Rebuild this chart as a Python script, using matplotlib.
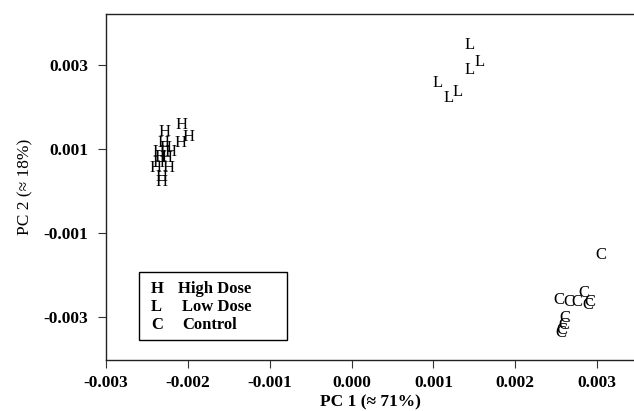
import matplotlib.pyplot as plt
from matplotlib.patches import Rectangle

plt.rcParams['font.family'] = ['Liberation Serif', 'DejaVu Serif']

# PCA scores
high_x = [-0.002075, -0.001994, -0.002287, -0.002300, -0.002095, -0.002361, -0.002218,
          -0.002258, -0.002401, -0.002238, -0.002319, -0.002319, -0.002361, -0.002279,
          -0.002340]
high_y = [0.001571, 0.001293, 0.001412, 0.001136, 0.001143, 0.000936, 0.000936,
          0.000779, 0.000540, 0.000540, 0.000340, 0.000221, 0.000660, 0.001024,
          0.000810]

low_x = [0.001441, 0.001564, 0.001441, 0.001050, 0.001295, 0.001185]
low_y = [0.003476, 0.003079, 0.002881, 0.002564, 0.002364, 0.002207]

ctrl_x = [0.003048, 0.002529, 0.002652, 0.002835, 0.002754, 0.002917, 0.002892,
          0.002611, 0.002590, 0.002571, 0.002559]
ctrl_y = [-0.001524, -0.002595, -0.002636, -0.002436, -0.002636, -0.002636, -0.002714,
          -0.003031, -0.003191, -0.003310, -0.003381]

groups = [("H", "High Dose", high_x, high_y),
          ("L", "Low Dose", low_x, low_y),
          ("C", "Control", ctrl_x, ctrl_y)]

xticks = [-0.003, -0.002, -0.001, 0.000, 0.001, 0.002, 0.003]
yticks = [-0.003, -0.001, 0.001, 0.003]

fig = plt.figure(figsize=(6.34, 4.11), dpi=100)
ax = fig.add_axes([0.1672, 0.1241, 0.8328, 0.8419])

for letter, name, xs, ys in groups:
    for x, y in zip(xs, ys):
        ax.text(x, y, letter, ha='center', va='center', fontsize=12, color='black')

ax.set_xlim(-0.003, 0.00345)
ax.set_ylim(-0.00402, 0.00421)
ax.set_xticks(xticks)
ax.set_xticklabels([f"{t:.3f}" for t in xticks], fontweight='bold')
ax.set_yticks(yticks)
ax.set_yticklabels([f"{t:.3f}" for t in yticks], fontweight='bold')
ax.tick_params(labelsize=12.5, length=6, width=0.8, color='#333333')
ax.tick_params(axis='x', pad=5)
ax.tick_params(axis='y', pad=7)

for side in ['left', 'bottom', 'top']:
    ax.spines[side].set_linewidth(1.0)
    ax.spines[side].set_color('#222222')
ax.spines['right'].set_visible(False)

ax.set_xlabel("PC 1 (\u2248 71%)", fontsize=12.5, fontweight='bold', labelpad=2)
ax.set_ylabel("PC 2 (\u2248 18%)", fontsize=12.5, labelpad=7)

# legend box drawn by hand
ax.add_patch(Rectangle((0.0625, 0.058), 0.2805, 0.196, transform=ax.transAxes,
                       fill=False, edgecolor='black', linewidth=1.0))
row_y = [0.205, 0.153, 0.101]
label_x = [0.136, 0.143, 0.145]
for (letter, name, _, _), ry, lx in zip(groups, row_y, label_x):
    ax.text(0.085, ry, letter, transform=ax.transAxes, ha='left', va='center',
            fontsize=12, fontweight='bold')
    ax.text(lx, ry, name, transform=ax.transAxes, ha='left', va='center',
            fontsize=12, fontweight='bold')

plt.savefig("out.png", dpi=100)
